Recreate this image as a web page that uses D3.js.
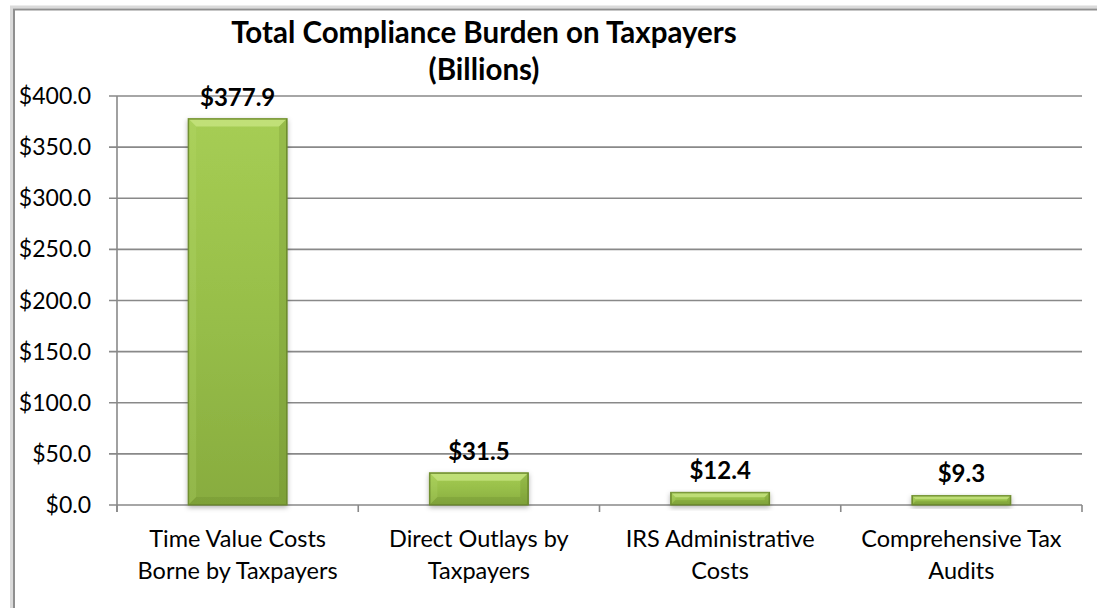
<!DOCTYPE html>
<html lang="en">
<head>
  <meta charset="UTF-8">
  <title>Total Compliance Burden on Taxpayers</title>
  <script src="https://cdnjs.cloudflare.com/ajax/libs/d3/7.8.5/d3.min.js"></script>
  <style>
    body {
      margin: 0;
      background: white;
    }
    svg {
      display: block;
      font-family: Lato, "Open Sans", sans-serif;
    }
  </style>
</head>
<body>
  <script>
    // chart data
    var categories = [
      "Time Value Costs Borne by Taxpayers",
      "Direct Outlays by Taxpayers",
      "IRS Administrative Costs",
      "Comprehensive Tax Audits"
    ];
    var categoryLines = [
      ["Time Value Costs", "Borne by Taxpayers"],
      ["Direct Outlays by", "Taxpayers"],
      ["IRS Administrative", "Costs"],
      ["Comprehensive Tax", "Audits"]
    ];
    var values = [377.9, 31.5, 12.4, 9.3];
    var valueLabels = ["$377.9", "$31.5", "$12.4", "$9.3"];
    var yTicks = [0, 50, 100, 150, 200, 250, 300, 350, 400];
    var titleLines = ["Total Compliance Burden on Taxpayers", "(Billions)"];

    var w = 1097;
    var h = 608;
    var plotLeft = 117, plotRight = 1082, plotTop = 96, plotBottom = 505;

    var svg = d3.select("body").append("svg")
      .attr("width", w)
      .attr("height", h);

    var defs = svg.append("defs");

    var grad = defs.append("linearGradient")
      .attr("id", "barFace")
      .attr("x1", 0).attr("y1", 0).attr("x2", 0).attr("y2", 1);
    grad.append("stop").attr("offset", "0%").attr("stop-color", "#a6cd54");
    grad.append("stop").attr("offset", "55%").attr("stop-color", "#96bd48");
    grad.append("stop").attr("offset", "100%").attr("stop-color", "#88ac3f");

    var shadow = defs.append("filter")
      .attr("id", "shadow")
      .attr("x", "-20%").attr("y", "-20%")
      .attr("width", "140%").attr("height", "160%");
    shadow.append("feDropShadow")
      .attr("dx", 0).attr("dy", 2)
      .attr("stdDeviation", 2.5)
      .attr("flood-color", "#000")
      .attr("flood-opacity", 0.3);

    // outer frame (cropped chart border)
    svg.append("rect")
      .attr("x", 11.5).attr("y", 7)
      .attr("width", w + 20).attr("height", h + 20)
      .attr("fill", "none")
      .attr("stroke", "#dadada")
      .attr("stroke-width", 3);
    svg.append("rect")
      .attr("x", 14).attr("y", 9.5)
      .attr("width", w + 20).attr("height", h + 20)
      .attr("fill", "none")
      .attr("stroke", "#8f8f8f")
      .attr("stroke-width", 2);

    var xScale = d3.scaleBand()
      .domain(categories)
      .range([plotLeft, plotRight])
      .paddingInner(0.59)
      .paddingOuter(0.295);

    var yScale = d3.scaleLinear()
      .domain([0, 400])
      .range([plotBottom, plotTop]);

    // gridlines
    svg.append("g")
      .selectAll("line")
      .data(yTicks)
      .enter()
      .append("line")
      .attr("x1", plotLeft - 8)
      .attr("x2", plotRight)
      .attr("y1", function(d) { return yScale(d); })
      .attr("y2", function(d) { return yScale(d); })
      .attr("stroke", "#898989")
      .attr("stroke-width", 1.6);

    // y axis line
    svg.append("line")
      .attr("x1", plotLeft).attr("x2", plotLeft)
      .attr("y1", plotTop).attr("y2", plotBottom + 7)
      .attr("stroke", "#898989")
      .attr("stroke-width", 1.6);

    // category tick marks
    var step = xScale.step();
    svg.append("g")
      .selectAll("line")
      .data(d3.range(categories.length + 1))
      .enter()
      .append("line")
      .attr("x1", function(i) { return plotLeft + i * step; })
      .attr("x2", function(i) { return plotLeft + i * step; })
      .attr("y1", plotBottom)
      .attr("y2", plotBottom + 7)
      .attr("stroke", "#898989")
      .attr("stroke-width", 1.6);

    // y tick labels
    svg.append("g")
      .selectAll("text")
      .data(yTicks)
      .enter()
      .append("text")
      .attr("x", 91)
      .attr("y", function(d) { return yScale(d); })
      .attr("dy", "0.35em")
      .attr("text-anchor", "end")
      .style("font-size", "23px")
      .attr("fill", "#000")
      .text(function(d) { return "$" + d3.format(".1f")(d); });

    // bars with bevel
    var bars = svg.append("g")
      .selectAll("g")
      .data(values)
      .enter()
      .append("g")
      .attr("filter", "url(#shadow)");

    bars.append("rect")
      .attr("x", function(d, i) { return xScale(categories[i]); })
      .attr("y", function(d) { return yScale(d); })
      .attr("width", xScale.bandwidth())
      .attr("height", function(d) { return plotBottom - yScale(d); })
      .attr("fill", "url(#barFace)")
      .attr("stroke", "#6d8b2e")
      .attr("stroke-width", 1);

    function bevel(d, i, side) {
      var x0 = xScale(categories[i]);
      var x1 = x0 + xScale.bandwidth();
      var y0 = yScale(d);
      var y1 = plotBottom;
      var b = Math.min(8, (y1 - y0) / 2.6);
      if (side === "top") {
        return [[x0, y0], [x1, y0], [x1 - b, y0 + b], [x0 + b, y0 + b]];
      } else if (side === "left") {
        return [[x0, y0], [x0 + b, y0 + b], [x0 + b, y1 - b], [x0, y1]];
      } else if (side === "right") {
        return [[x1, y0], [x1 - b, y0 + b], [x1 - b, y1 - b], [x1, y1]];
      }
      return [[x0, y1], [x0 + b, y1 - b], [x1 - b, y1 - b], [x1, y1]];
    }

    var bevelFill = {
      top: "rgba(215,240,150,0.55)",
      left: "rgba(190,225,120,0.2)",
      right: "rgba(70,95,20,0.15)",
      bottom: "rgba(60,85,15,0.12)"
    };

    ["top", "left", "right", "bottom"].forEach(function(side) {
      bars.append("polygon")
        .attr("points", function(d, i) {
          return bevel(d, i, side).map(function(p) { return p.join(","); }).join(" ");
        })
        .attr("fill", bevelFill[side]);
    });

    bars.append("rect")
      .attr("x", function(d, i) { return xScale(categories[i]) + 0.5; })
      .attr("y", function(d) { return yScale(d) + 0.5; })
      .attr("width", xScale.bandwidth() - 1)
      .attr("height", function(d) { return plotBottom - yScale(d) - 1; })
      .attr("fill", "none")
      .attr("stroke", "#6d8b2e")
      .attr("stroke-width", 1);

    // value labels
    svg.append("g")
      .selectAll("text")
      .data(values)
      .enter()
      .append("text")
      .attr("x", function(d, i) { return xScale(categories[i]) + xScale.bandwidth() / 2; })
      .attr("y", function(d) { return yScale(d) - 13; })
      .attr("text-anchor", "middle")
      .style("font-size", "24px")
      .style("font-weight", "bold")
      .text(function(d, i) { return valueLabels[i]; });

    // category labels
    var catLabels = svg.append("g")
      .selectAll("text")
      .data(categoryLines)
      .enter()
      .append("text")
      .attr("text-anchor", "middle")
      .style("font-size", "23.5px")
      .attr("x", function(d, i) { return xScale(categories[i]) + xScale.bandwidth() / 2; })
      .attr("y", 547);

    catLabels.selectAll("tspan")
      .data(function(d) { return d; })
      .enter()
      .append("tspan")
      .attr("x", function() { return d3.select(this.parentNode).attr("x"); })
      .attr("dy", function(d, j) { return j === 0 ? 0 : 32; })
      .text(function(d) { return d; });

    // title
    svg.append("g")
      .selectAll("text")
      .data(titleLines)
      .enter()
      .append("text")
      .attr("x", 484)
      .attr("y", function(d, i) { return 43 + i * 37; })
      .attr("text-anchor", "middle")
      .style("font-size", "29.5px")
      .style("font-weight", "bold")
      .text(function(d) { return d; });
  </script>
</body>
</html>
